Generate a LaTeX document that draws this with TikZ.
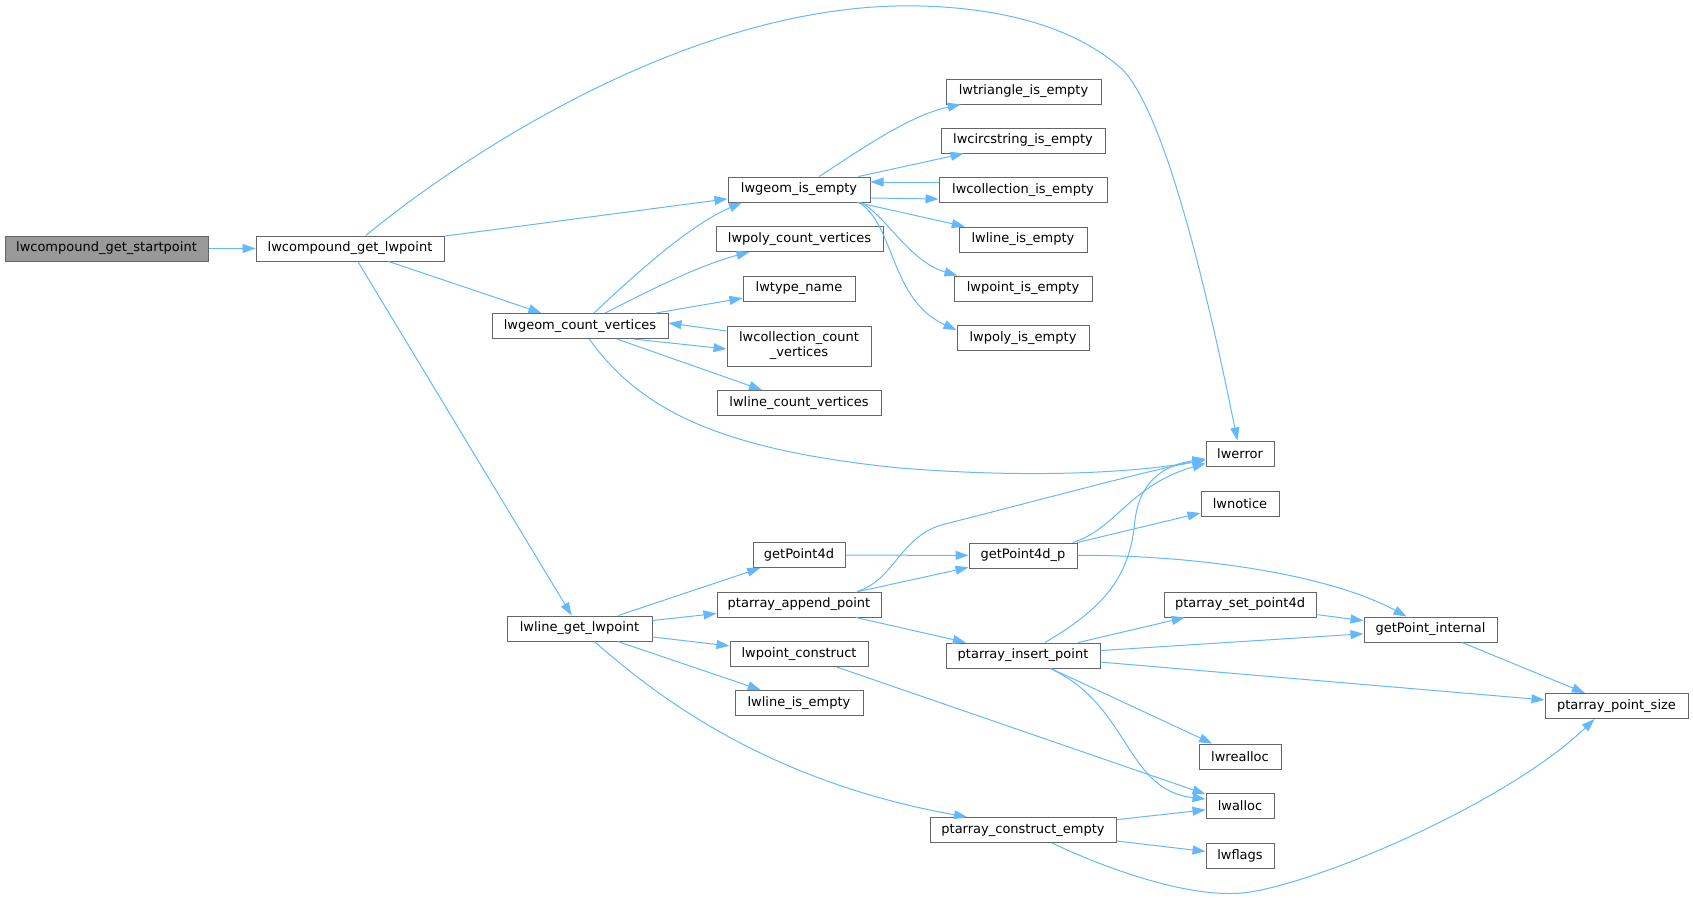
\documentclass[tikz,border=0pt]{standalone}
\usepackage{fontspec}
\setmainfont{DejaVu Sans}
\usetikzlibrary{arrows.meta}
\definecolor{edgec}{HTML}{63B8FF}
\definecolor{boxc}{HTML}{666666}
\definecolor{startc}{HTML}{999999}
\begin{document}
\begin{tikzpicture}[x=1pt,y=-1pt,
  box/.style={draw=boxc, line width=1pt, fill=white, minimum height=25pt, inner sep=0pt, font=\fontsize{13}{15}\selectfont},
  conn/.style={draw=edgec, line width=1pt, -{Triangle[length=13pt,width=9pt]}}]
\useasboundingbox (0,0) rectangle (1693,897);
% nodes
\node[box, fill=startc, minimum width=203pt] (st) at (106.5,248.5) {lwcompound\_get\_startpoint};
\node[box, minimum width=188pt] (glp) at (350,248.5) {lwcompound\_get\_lwpoint};
\node[box, minimum width=142pt] (ge) at (799,189.5) {lwgeom\_is\_empty};
\node[box, minimum width=167pt] (pcv) at (799.5,239) {lwpoly\_count\_vertices};
\node[box, minimum width=112pt] (tn) at (799,288.5) {lwtype\_name};
\node[box, minimum width=176pt] (cv) at (580,326) {lwgeom\_count\_vertices};
\node[box, minimum width=144pt, minimum height=40pt, align=center] (lcc) at (799,346) {lwcollection\_count\\\_vertices};
\node[box, minimum width=164pt] (lcv) at (799,403) {lwline\_count\_vertices};
\node[box, minimum width=155pt] (lte) at (1023.5,91.5) {lwtriangle\_is\_empty};
\node[box, minimum width=164pt] (lce) at (1023,140.5) {lwcircstring\_is\_empty};
\node[box, minimum width=168pt] (lcoe) at (1023,190) {lwcollection\_is\_empty};
\node[box, minimum width=128pt] (lle1) at (1023,239.5) {lwline\_is\_empty};
\node[box, minimum width=138pt] (lpe) at (1023,288.5) {lwpoint\_is\_empty};
\node[box, minimum width=132pt] (lpoe) at (1023,338) {lwpoly\_is\_empty};
\node[box, minimum width=68pt] (err) at (1240,453.5) {lwerror};
\node[box, minimum width=78pt] (ln) at (1240,503.5) {lwnotice};
\node[box, minimum width=92pt] (gp4) at (799,555) {getPoint4d};
\node[box, minimum width=108pt] (gp4p) at (1023,555.5) {getPoint4d\_p};
\node[box, minimum width=164pt] (pap) at (799,604.5) {ptarray\_append\_point};
\node[box, minimum width=145pt] (lgl) at (579.5,628.5) {lwline\_get\_lwpoint};
\node[box, minimum width=138pt] (lpc) at (799,654) {lwpoint\_construct};
\node[box, minimum width=128pt] (lle2) at (799,703) {lwline\_is\_empty};
\node[box, minimum width=152pt] (psp) at (1240,604.5) {ptarray\_set\_point4d};
\node[box, minimum width=154pt] (pip) at (1023,655.5) {ptarray\_insert\_point};
\node[box, minimum width=133pt] (gpi) at (1430.5,629.5) {getPoint\_internal};
\node[box, minimum width=143pt] (pps) at (1616.5,706) {ptarray\_point\_size};
\node[box, minimum width=82pt] (lr) at (1240,756.5) {lwrealloc};
\node[box, minimum width=68pt] (la) at (1240,806) {lwalloc};
\node[box, minimum width=186pt] (pce) at (1023,830) {ptarray\_construct\_empty};
\node[box, minimum width=68pt] (lf) at (1240,855.5) {lwflags};
% edges
\draw[conn] (st) -- (glp);
\draw[conn] (glp) .. controls (470,150) and (700,0) .. (921,6) .. controls (1030,9) and (1090,40) .. (1123,70) .. controls (1170,120) and (1215,330) .. (err);
\draw[conn] (glp) -- (ge);
\draw[conn] (glp) -- (cv);
\draw[conn] (glp) -- (lgl);
\draw[conn] (cv) .. controls (640,270) and (690,225) .. ([xshift=-57pt]ge.south);
\draw[conn] (cv) .. controls (650,290) and (700,265) .. ([xshift=-50pt]pcv.south);
\draw[conn] (cv) -- (tn);
\draw[conn] ([xshift=-35pt]cv.south east) -- ([yshift=-3pt]lcc.west);
\draw[conn] ([yshift=15pt]lcc.west) -- ([yshift=3pt]cv.east);
\draw[conn] (cv) -- (lcv);
\draw[conn] (cv) .. controls (640,410) and (720,450) .. (900,468) .. controls (1050,480) and (1150,470) .. (err);
\draw[conn] (ge) .. controls (860,150) and (910,115) .. (lte);
\draw[conn] (ge) -- (lce);
\draw[conn] ([yshift=-8.5pt]ge.east) -- ([yshift=-9pt]lcoe.west);
\draw[conn] ([yshift=8pt]lcoe.west) -- ([yshift=7.5pt]ge.east);
\draw[conn] (ge) -- (lle1);
\draw[conn] ([xshift=62pt]ge.south) .. controls (885,215) and (910,262) .. ([xshift=4pt]lpe.north west);
\draw[conn] ([xshift=60pt]ge.south) .. controls (895,225) and (890,300) .. ([yshift=-5pt]lpoe.north west);
\draw[conn] (lgl) -- (gp4);
\draw[conn] (lgl) -- (pap);
\draw[conn] (lgl) -- (lpc);
\draw[conn] (lgl) -- (lle2);
\draw[conn] (lgl) .. controls (650,690) and (760,780) .. ([xshift=-56pt]pce.north);
\draw[conn] (gp4) -- (gp4p);
\draw[conn] ([xshift=58pt]pap.north) .. controls (895,580) and (900,535) .. (945,524) .. controls (1040,500) and (1150,470) .. (err);
\draw[conn] (pap) -- (gp4p);
\draw[conn] (pap) -- (pip);
\draw[conn] ([xshift=-5pt]gp4p.north east) .. controls (1115,530) and (1130,485) .. (err);
\draw[conn] (gp4p) -- (ln);
\draw[conn] (gp4p) .. controls (1200,555) and (1330,575) .. (gpi);
\draw[conn] ([xshift=22pt]pip.north) .. controls (1100,610) and (1130,580) .. (1135,520) .. controls (1140,480) and (1165,465) .. (err);
\draw[conn] (pip) -- (psp);
\draw[conn] (pip) -- (gpi);
\draw[conn] (pip) -- (pps);
\draw[conn] (pip) -- (lr);
\draw[conn] ([xshift=27pt]pip.south) .. controls (1130,705) and (1125,790) .. ([yshift=-6pt]la.north west);
\draw[conn] (psp) -- (gpi);
\draw[conn] (gpi) -- (pps);
\draw[conn] (lpc) -- (la);
\draw[conn] (pce) -- (la);
\draw[conn] (pce) -- (lf);
\draw[conn] ([xshift=29pt]pce.south) .. controls (1120,875) and (1200,900) .. (1250,892) .. controls (1330,879) and (1510,800) .. ([xshift=-22pt]pps.south);
\end{tikzpicture}
\end{document}
